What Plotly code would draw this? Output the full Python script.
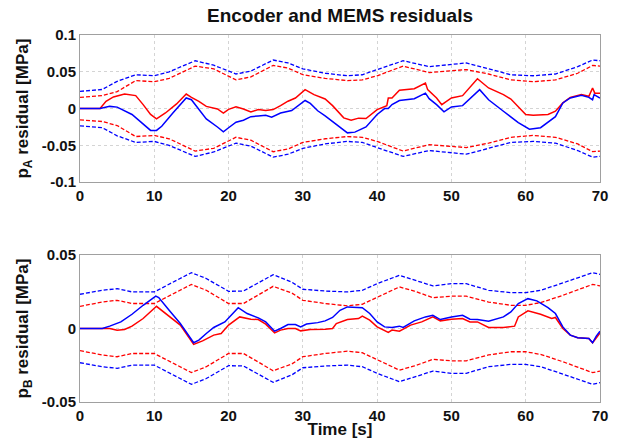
import plotly.graph_objects as go
from plotly.subplots import make_subplots

# ---------------- top panel (p_A) ----------------
tA_band = [0, 3, 5, 7.5, 10, 12, 15.5, 18, 21, 23, 26, 28, 30, 33, 36, 38, 40, 43.5, 47, 50, 52, 55, 58, 61, 64, 67, 69, 70]
A_enc_upper = [0.0234, 0.026, 0.037, 0.046, 0.0446, 0.05, 0.065, 0.059, 0.047, 0.051, 0.066, 0.062, 0.054,
               0.048, 0.0446, 0.046, 0.053, 0.065, 0.057, 0.060, 0.062, 0.054, 0.046, 0.0446, 0.047, 0.057, 0.066, 0.065]
A_enc_lower = [-0.0234, -0.026, -0.037, -0.046, -0.0446, -0.05, -0.065, -0.059, -0.047, -0.051, -0.066, -0.062, -0.054,
               -0.048, -0.0446, -0.046, -0.053, -0.065, -0.057, -0.060, -0.062, -0.054, -0.046, -0.0446, -0.047, -0.057, -0.066, -0.065]
A_mems_upper = [0.0153, 0.0176, 0.023, 0.038, 0.0365, 0.041, 0.0577, 0.054, 0.039, 0.043, 0.0586, 0.055, 0.046,
                0.041, 0.038, 0.039, 0.0446, 0.0577, 0.049, 0.052, 0.053, 0.047, 0.039, 0.0365, 0.039, 0.048, 0.0586, 0.0577]
A_mems_lower = [-0.0153, -0.0176, -0.023, -0.038, -0.0365, -0.041, -0.0577, -0.054, -0.039, -0.043, -0.0586, -0.055, -0.046,
                -0.041, -0.038, -0.039, -0.0446, -0.0577, -0.049, -0.052, -0.053, -0.047, -0.039, -0.0365, -0.039, -0.048, -0.0586, -0.0577]

tA_enc = [0, 2.7, 4, 5, 7, 8.5, 9.5, 10.3, 11, 12.5, 14.3, 15, 16, 17, 18.5, 19.3, 20, 21, 22, 23, 24, 25, 25.8, 27,
          28.5, 30.3, 31, 32, 33, 35, 36, 37, 38.5, 40, 41, 41.5, 42, 43, 45, 46.5, 47, 48, 49, 50, 51.5, 53.8, 55,
          57, 59, 60.5, 62, 64, 65, 66, 67.5, 68.5, 69, 69.2, 70]
A_enc = [0, 0, 0.003, 0.002, -0.008, -0.0216, -0.0297, -0.0297, -0.024, -0.006, 0.0144, 0.012, -0.0014, -0.014, -0.025,
         -0.0315, -0.026, -0.0185, -0.0158, -0.011, -0.010, -0.009, -0.0117, -0.006, -0.0027, 0.011, 0.007, -0.003,
         -0.010, -0.026, -0.033, -0.032, -0.025, -0.008, 0, 0, 0.0054, 0.011, 0.0135, 0.021, 0.0135, 0.0054, -0.0045,
         0.0023, 0.004, 0.0257, 0.012, -0.0036, -0.019, -0.028, -0.026, -0.011, 0.0077, 0.0144, 0.018, 0.0153, 0.012,
         0.019, 0.0144]

tA_mems = [0, 2.7, 3.5, 4.5, 6, 7.5, 8.5, 9.5, 10.3, 11.5, 13, 14.3, 15, 16, 17, 18.5, 19.3, 20, 21, 22, 23, 24, 25, 26,
           27, 28, 29, 30.3, 31.5, 33, 34, 35.5, 36.5, 37.5, 38.5, 40, 41.3, 41.5, 42, 43, 45, 46.5, 46.8, 48, 48.7,
           50, 51.5, 53.5, 55, 57, 58, 60, 61, 63, 64, 65, 66, 67.5, 68.5, 69, 69.3, 70]
A_mems = [0, 0, 0.01, 0.0158, 0.0198, 0.0176, 0.0054, -0.008, -0.014, -0.006, 0.0063, 0.0198, 0.0153, 0.0099, 0.003,
          -0.0005, -0.006, -0.001, 0.0023, -0.0005, -0.0045, -0.0014, -0.0027, -0.0014, 0.004, 0.01, 0.0144, 0.0257,
          0.019, 0.013, 0.004, -0.0126, -0.0158, -0.013, -0.0135, -0.0014, 0.004, 0.0144, 0.0144, 0.0248, 0.027,
          0.0347, 0.0257, 0.0144, 0.0054, 0.0144, 0.0176, 0.0405, 0.028, 0.019, 0.013, -0.008, -0.009, -0.008,
          -0.0036, 0.0077, 0.0153, 0.019, 0.0167, 0.028, 0.021, 0.021]

# ---------------- bottom panel (p_B) ----------------
tB_band = [0, 3, 5, 7, 10, 12.5, 15, 17, 20, 22, 26, 28.5, 30, 33, 36, 38, 40, 43, 45, 47.5, 50, 52, 55, 58, 60, 62, 65, 69, 70]
B_enc_upper = [0.0233, 0.026, 0.0271, 0.0249, 0.0249, 0.0316, 0.038, 0.034, 0.0253, 0.0255, 0.0366, 0.0316, 0.0267,
               0.0255, 0.0249, 0.026, 0.0305, 0.0362, 0.0332, 0.029, 0.0305, 0.0305, 0.026, 0.0244, 0.0244, 0.026,
               0.031, 0.038, 0.0368]
B_enc_lower = [-0.0233, -0.026, -0.0271, -0.0249, -0.0249, -0.0316, -0.038, -0.034, -0.0253, -0.0255, -0.0366, -0.0316,
               -0.0267, -0.0255, -0.0249, -0.026, -0.0305, -0.0362, -0.0332, -0.029, -0.0305, -0.0305, -0.026, -0.0244,
               -0.0244, -0.026, -0.031, -0.038, -0.0368]
B_mems_upper = [0.0151, 0.018, 0.0192, 0.017, 0.017, 0.0237, 0.030, 0.026, 0.017, 0.017, 0.0287, 0.0242, 0.0192,
                0.017, 0.0154, 0.0165, 0.021, 0.0283, 0.0255, 0.021, 0.022, 0.022, 0.018, 0.0158, 0.0158, 0.0176,
                0.0226, 0.030, 0.029]
B_mems_lower = [-0.0151, -0.018, -0.0192, -0.017, -0.017, -0.0237, -0.030, -0.026, -0.017, -0.017, -0.0287, -0.0242,
                -0.0192, -0.017, -0.0154, -0.0165, -0.021, -0.0283, -0.0255, -0.021, -0.022, -0.022, -0.018, -0.0158,
                -0.0158, -0.0176, -0.0226, -0.030, -0.029]

tB_enc = [0, 3, 4, 5.5, 7, 8.5, 10.2, 10.6, 12, 13.5, 15.3, 16, 17, 18, 19.5, 21.3, 22.5, 24, 25, 26.2, 27, 28, 29, 29.7,
          30.5, 32, 33, 34, 35, 36, 38, 39, 40, 41, 42, 43, 43.5, 45, 46.5, 47.5, 48.5, 50, 51.5, 52.5, 53.5, 55, 57,
          58, 59, 60.3, 61.5, 63, 64, 65, 66, 67, 68.5, 69, 69.5, 70]
B_enc = [0, 0, 0.0016, 0.0045, 0.0097, 0.0158, 0.022, 0.021, 0.0124, 0.0034, -0.0097, -0.0079, -0.0034, 0.0007, 0.0045,
         0.0142, 0.0102, 0.0072, 0.0045, -0.0018, 0, 0.0027, 0.0027, 0.0011, 0.003, 0.004, 0.0052, 0.0075, 0.0124,
         0.0147, 0.0142, 0.0102, 0.0045, 0.0011, 0.0007, 0.0016, 0.0007, 0.0052, 0.0079, 0.009, 0.0061, 0.0079, 0.009,
         0.0063, 0.0061, 0.005, 0.0079, 0.0113, 0.017, 0.0203, 0.0188, 0.0142, 0.0102, 0.0011, -0.0045, -0.0063,
         -0.0068, -0.0097, -0.0052, -0.0018]

tB_mems = [0, 3, 4, 5, 6, 7, 8.5, 10.3, 11, 12.5, 13.5, 15.3, 16.5, 18, 19, 20, 21.5, 23, 24, 25, 26.2, 27, 28, 29, 29.7,
           31, 32, 33, 34, 34.5, 36, 37.5, 38, 39, 40, 41.5, 42, 43, 44.5, 46, 47.5, 48.5, 50, 51.5, 52.5, 53.5, 55,
           57, 58.5, 59, 60.3, 62, 63.5, 64, 65, 66, 67, 68.5, 69, 70]
B_mems = [0, 0, 0, -0.0011, -0.0007, 0.0016, 0.0068, 0.0151, 0.0124, 0.0068, 0.0023, -0.0108, -0.0084, -0.0045, -0.0034,
          0.0023, 0.0079, 0.0063, 0.0061, 0.003, -0.003, -0.0011, 0, 0, -0.0016, -0.0007, -0.0007, -0.0005, 0, 0.0034,
          0.0061, 0.0068, 0.0084, 0.0057, 0.0011, -0.0027, -0.0011, -0.0018, 0.0023, 0.0045, 0.0079, 0.0052, 0.0063,
          0.0068, 0.0045, 0.0045, 0.0007, 0.0007, 0.0016, 0.0079, 0.012, 0.0097, 0.0068, 0.0075, 0, -0.0045, -0.0063,
          -0.0068, -0.0097, -0.003]

x_ticks = [0, 10, 20, 30, 40, 50, 60, 70]
yA_ticks = [-0.1, -0.05, 0, 0.05, 0.1]
yA_labels = ["-0.1", "-0.05", "0", "0.05", "0.1"]
yB_ticks = [-0.05, 0, 0.05]
yB_labels = ["-0.05", "0", "0.05"]

BLUE = "#0000ff"
RED = "#ff0000"
FONT = "Liberation Sans"

W, H = 631, 439

fig = make_subplots(rows=2, cols=1, vertical_spacing=0.2)

def add(row, t, y, color, dash):
    fig.add_trace(go.Scatter(x=t, y=y, mode="lines", showlegend=False, hoverinfo="skip",
                             line=dict(color=color, width=1.5 if dash == "solid" else 1.3,
                                       dash=dash if dash == "solid" else "4px,2px")),
                  row=row, col=1)

add(1, tA_band, A_enc_upper, BLUE, "dash")
add(1, tA_band, A_mems_upper, RED, "dash")
add(1, tA_band, A_mems_lower, RED, "dash")
add(1, tA_band, A_enc_lower, BLUE, "dash")
add(1, tA_mems, A_mems, RED, "solid")
add(1, tA_enc, A_enc, BLUE, "solid")

add(2, tB_band, B_enc_upper, BLUE, "dash")
add(2, tB_band, B_mems_upper, RED, "dash")
add(2, tB_band, B_mems_lower, RED, "dash")
add(2, tB_band, B_enc_lower, BLUE, "dash")
add(2, tB_mems, B_mems, RED, "solid")
add(2, tB_enc, B_enc, BLUE, "solid")

axis_common = dict(showline=True, mirror=True, linecolor="#a0a0a0", linewidth=1,
                   showgrid=True, gridcolor="#d4d4d4", griddash="dot", gridwidth=1,
                   zeroline=False, ticks="", automargin=False,
                   tickfont=dict(family=FONT, size=15, color="#111", weight="bold"))

fig.update_xaxes(range=[0, 70], tickvals=x_ticks, **axis_common)
fig.update_yaxes(**axis_common)

fig.update_xaxes(domain=[0, 1], row=1, col=1)
fig.update_xaxes(domain=[0, 1], row=2, col=1,
                 title=dict(text="Time [s]", standoff=0,
                            font=dict(family=FONT, size=17, color="#111", weight="bold")))
fig.update_yaxes(domain=[0.599, 1.0], range=[-0.1, 0.1], tickvals=yA_ticks, ticktext=yA_labels, row=1, col=1,
                 title=dict(text="p<sub>A</sub> residual [MPa]", standoff=8,
                            font=dict(family=FONT, size=17, color="#111", weight="bold")))
fig.update_yaxes(domain=[0.0, 0.4005], range=[-0.05, 0.05], tickvals=yB_ticks, ticktext=yB_labels, row=2, col=1,
                 title=dict(text="p<sub>B</sub> residual [MPa]", standoff=8,
                            font=dict(family=FONT, size=17, color="#111", weight="bold")))

fig.update_layout(
    width=W, height=H,
    margin=dict(l=80, r=31, t=35, b=37, autoexpand=False),
    paper_bgcolor="white", plot_bgcolor="white",
    hovermode=False,
    title=dict(text="Encoder and MEMS residuals", x=340 / W, xanchor="center", y=1 - 15 / H, yanchor="middle",
               font=dict(family=FONT, size=19, color="#111", weight="bold")),
)

# remove the page's default body margin so the figure fills the window exactly
fig.write_html("out.html", config={"displayModeBar": False},
               post_script="document.body.style.margin='0';")
